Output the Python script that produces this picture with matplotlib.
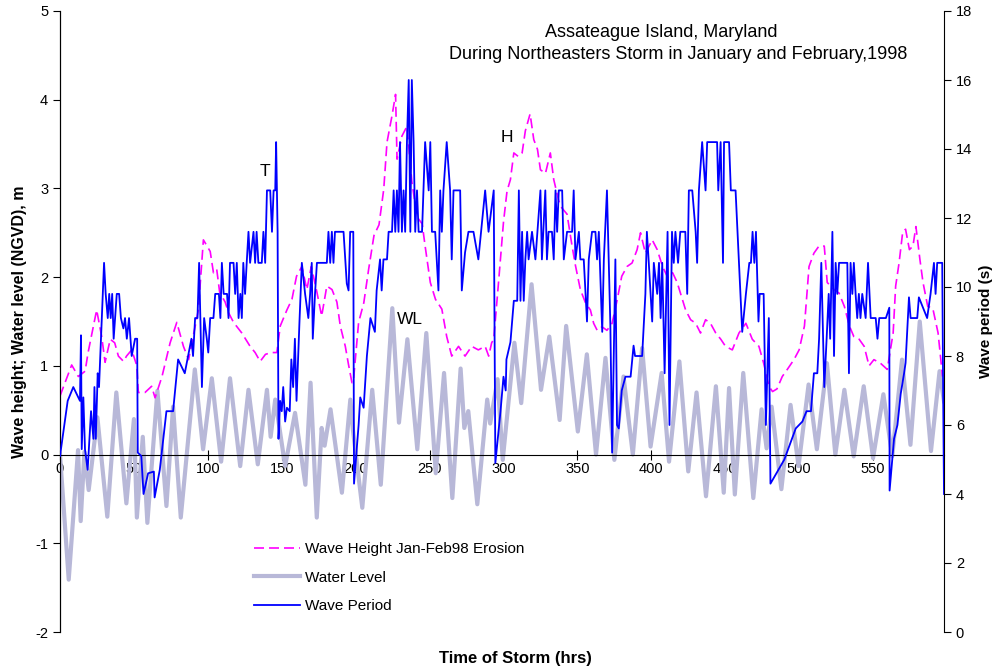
import matplotlib
matplotlib.use("Agg")
import matplotlib.pyplot as plt
from matplotlib.lines import Line2D

plt.rcParams['font.family'] = ['Liberation Sans', 'DejaVu Sans']
plt.rcParams['axes.unicode_minus'] = False

# wave height (m) vs storm time (hrs)
height_hr = [0, 7.9, 12.4, 17, 19, 24.8, 28.2, 30.5, 34, 37, 39.5, 43, 45, 48.5, 52, 53, 57.5, 62, 64.3, 69,
             74.5, 79, 83.5, 87, 90.5, 93.6, 97, 101.6, 103.8, 106, 108, 111.7, 114, 117.4, 123, 128.6, 132,
             135.4, 139, 143, 146.7, 149, 153.5, 156.9, 160, 163.6, 167, 170, 173.8, 177, 180.5, 184, 187.3,
             189.6, 193, 195, 197.5, 198.6, 202, 205.5, 208.8, 212.4, 215.8, 219, 221.2, 224.6, 227, 228,
             231.3, 234.7, 238, 241.5, 245, 247, 250.5, 254, 258.3, 261.6, 265, 269.6, 274, 278.5, 283, 287.6,
             290, 292, 293.4, 296.8, 300, 302.4, 304.7, 307, 310, 312.6, 314.8, 318, 320.5, 323, 325, 328.4,
             331.7, 334, 337.4, 339.5, 343, 346.4, 348.7, 352, 355.5, 358.8, 361, 363.4, 366.7, 370, 373.5,
             377, 380, 383.6, 387, 390.4, 392.7, 396, 400.6, 404, 407.6, 411, 414.4, 417.5, 421, 423.2, 426.6,
             430, 433.3, 436.7, 440, 443.6, 447, 450.2, 454.8, 459.3, 464, 468.3, 472.8, 476, 479.6, 482, 485,
             488.6, 492, 496.5, 500, 503.6, 506.7, 510, 513.4, 517, 519, 523.6, 527, 530.6, 534, 537, 540.6,
             544, 547.3, 550.6, 555, 559.6, 563.6, 565.3, 567.6, 570, 572, 574.6, 577, 579, 581.7, 583.8, 587,
             590.4, 594, 597]
height_m = [0.66, 1.01, 0.88, 0.94, 1.15, 1.63, 1.33, 1.04, 1.30, 1.26, 1.11, 1.05, 1.11, 1.18, 1.00, 0.70,
            0.70, 0.77, 0.64, 0.88, 1.26, 1.49, 1.22, 1.07, 1.37, 1.63, 2.42, 2.29, 2.05, 2.09, 1.83, 1.72,
            1.60, 1.49, 1.37, 1.22, 1.15, 1.05, 1.13, 1.15, 1.15, 1.45, 1.63, 1.75, 2.01, 2.12, 1.86, 2.12,
            1.83, 1.56, 1.90, 1.86, 1.72, 1.45, 1.22, 1.03, 0.81, 0.85, 1.49, 1.71, 2.09, 2.47, 2.59, 2.99,
            3.52, 3.82, 4.06, 3.33, 3.59, 3.70, 3.08, 2.68, 2.60, 2.35, 1.94, 1.75, 1.64, 1.33, 1.11, 1.22,
            1.11, 1.22, 1.18, 1.22, 1.11, 1.26, 1.30, 1.97, 2.62, 2.97, 3.10, 3.40, 3.36, 3.40, 3.65, 3.84,
            3.55, 3.44, 3.21, 3.17, 3.40, 3.10, 2.86, 2.78, 2.71, 2.35, 2.13, 1.86, 1.71, 1.63, 1.48, 1.40,
            1.44, 1.40, 1.48, 1.75, 2.01, 2.12, 2.16, 2.31, 2.50, 2.27, 2.42, 2.31, 2.12, 2.00, 2.05, 1.94,
            1.75, 1.63, 1.52, 1.48, 1.37, 1.52, 1.48, 1.37, 1.30, 1.22, 1.18, 1.37, 1.48, 1.30, 1.22, 1.03,
            0.77, 0.71, 0.74, 0.88, 0.96, 1.07, 1.18, 1.45, 2.12, 2.27, 2.35, 2.35, 1.94, 1.86, 1.82, 1.67,
            1.45, 1.33, 1.30, 1.22, 1.00, 1.07, 1.03, 0.96, 1.37, 1.90, 2.16, 2.50, 2.54, 2.31, 2.35, 2.57,
            2.20, 1.94, 1.67, 1.65, 1.37, 0.88]

# water level (m NGVD), tidal highs and lows
level_hr = [0, 5.9, 12.2, 14, 16.5, 19.4, 25.3, 32, 38.1, 44.9, 50, 52, 56, 59.1, 65.9, 72, 76.5, 81.7, 91.2,
            96.8, 102.7, 109, 115, 121.9, 127.5, 133.8, 140, 142.5, 145.6, 152.3, 159, 166, 169.5, 173.7, 177,
            179, 183, 190.7, 196.4, 198, 204.5, 211.2, 217, 224.8, 229.3, 235, 241.7, 247.8, 254.2, 259.8,
            265.4, 271, 273.5, 276.2, 282.3, 289, 291, 296, 299.5, 307.4, 312, 319, 325.4, 331, 338, 342.4,
            350.3, 356.4, 362.6, 369, 375, 381.2, 387.5, 393.8, 399.5, 407, 412, 419, 425, 430.6, 437, 443.7,
            449, 452.6, 456.5, 462.2, 469, 474.6, 478, 481.4, 488, 494.2, 499.6, 506.4, 512, 518.8, 524.5,
            530.6, 536.9, 543.7, 550, 557, 563, 569.6, 575.3, 581.6, 589.2, 595, 598]
level_m = [0.0, -1.41, 0.05, -0.75, 0.03, -0.40, 0.42, -0.70, 0.70, -0.55, 0.40, -0.71, 0.20, -0.77, 0.72,
           -0.58, 0.54, -0.71, 0.96, 0.06, 0.86, -0.08, 0.86, -0.13, 0.73, -0.11, 0.73, 0.20, 0.62, -0.13,
           0.47, -0.34, 0.81, -0.71, 0.30, 0.10, 0.51, -0.43, 0.62, 0.30, -0.60, 0.73, -0.34, 1.65, 0.36,
           1.30, 0.06, 1.37, -0.21, 0.92, -0.49, 0.97, 0.30, 0.49, -0.56, 0.62, 0.35, 0.85, -0.06, 1.26,
           0.58, 1.92, 0.73, 1.33, 0.39, 1.45, 0.26, 1.13, 0.00, 1.09, -0.06, 0.88, 0.00, 1.20, 0.09, 0.92,
           -0.08, 1.05, -0.19, 0.70, -0.47, 0.77, -0.43, 0.75, -0.45, 0.92, -0.49, 0.51, 0.07, 0.54, -0.39,
           0.56, -0.13, 0.79, 0.06, 1.03, 0.00, 0.73, -0.02, 0.77, -0.04, 0.68, -0.02, 1.07, 0.11, 1.50,
           0.04, 0.94, 0.60]

# peak wave period (s)
period_hr = [0, 5.2, 9, 13.5, 14.2, 14.7, 15.8, 16.9, 18.7, 21, 22.6, 23.3, 24.2, 25.5, 26.4, 27.8, 29.8,
             30.9, 32.3, 33.3, 34.3, 35.3, 36.3, 38.4, 40, 41.2, 42.9, 44, 45.2, 46.7, 48.5, 50.8, 52.2,
             52.6, 55, 56.5, 59.6, 63.5, 64, 67.5, 72, 76.5, 79.9, 84.4, 88.9, 90, 91.4, 93, 94.1, 96, 97.5,
             99.3, 100.3, 101.6, 103.8, 105, 107.5, 108.5, 109.5, 110.7, 113, 114, 115, 117.4, 118.5, 119.6,
             120.8, 122, 123, 124, 125.2, 126.3, 127.5, 128.6, 130.9, 132, 133, 134.2, 136.5, 137.6, 138.8,
             140, 142.2, 143.4, 144.5, 145.6, 146.2, 147.2, 147.8, 148.9, 150, 151, 152.3, 153.5, 155.4,
             156.5, 157.7, 158.9, 160, 162, 163.6, 165.8, 168, 169.2, 170.3, 171, 172.5, 173.8, 180.5, 181.6,
             182.8, 183.9, 185, 186, 191.8, 194, 195.2, 196.3, 198.4, 198.9, 202, 203.1, 205.4, 207.6, 210,
             213, 214.2, 216.5, 217.6, 218.8, 221.2, 222.3, 224.6, 225.7, 226.8, 227.9, 229, 230, 231.3,
             232.4, 233.5, 234.7, 235.9, 237, 238, 239.2, 240.3, 241.5, 242.6, 244.9, 247, 249.4, 250.5,
             251.6, 253.8, 256, 257.2, 258.3, 259.4, 261.6, 263.9, 265, 266.2, 270.7, 271.8, 274, 276.3,
             279.7, 283, 287.6, 289.9, 293.4, 294.5, 298, 300, 301.5, 302, 304.7, 307, 309.3, 310.4, 311.5,
             312.6, 313.7, 314.8, 316, 317, 319.3, 321.6, 325, 326, 328.3, 329.4, 330.5, 332.8, 334, 335.2,
             336.3, 337.4, 339.7, 340.8, 343, 346.4, 347.5, 348.7, 351, 352, 354.3, 356.5, 357.7, 359.9,
             362.2, 363.3, 364.5, 366.8, 367.9, 370, 372.3, 373.5, 375.7, 376.8, 378, 380, 382.5, 386, 388,
             389, 393.8, 396, 397, 398.3, 400.6, 401.7, 404, 405.2, 406.3, 407.4, 409, 411, 412.3, 414,
             415.2, 416.3, 418.1, 419.6, 423, 424.3, 425.4, 427.7, 430, 431, 432.2, 434.4, 436.7, 437.8,
             444.5, 445.3, 446.9, 448.5, 449.2, 452.6, 453.8, 457, 461.5, 464, 466.3, 467.4, 468.5, 469.7,
             470.8, 472.5, 473.3, 476, 477.5, 479.5, 480.6, 490, 497.7, 502.2, 505, 508, 510, 512.3, 513.5,
             515, 517, 518.6, 520, 521, 522.5, 523.6, 524.7, 525.8, 527, 532.6, 533.7, 534.8, 536, 537,
             538.2, 539.3, 540.4, 541.5, 542.7, 545, 546.6, 548.4, 551.8, 553, 554.2, 558.7, 561, 561.2,
             564.2, 566.5, 568.7, 571, 572, 574.3, 575.4, 579.9, 581, 586.6, 588.9, 591.2, 592.3, 593.4,
             596.8, 597.5, 598]
period_s = [5.1, 6.7, 7.1, 6.7, 8.6, 5.3, 6.8, 5.3, 4.7, 6.4, 5.6, 7.1, 5.6, 7.5, 7.1, 8.6, 10.7, 9.8, 9.1,
            9.8, 9.1, 9.8, 8.5, 9.8, 9.8, 9.1, 8.8, 9.1, 8.5, 9.1, 8.0, 8.5, 8.5, 5.2, 5.1, 4.0, 4.6, 4.65,
            3.9, 4.7, 6.4, 6.4, 7.9, 7.5, 8.5, 8.0, 9.1, 9.1, 10.7, 7.1, 9.1, 8.5, 8.1, 9.1, 9.1, 9.8, 9.8,
            9.1, 10.7, 9.8, 9.8, 9.1, 10.7, 10.7, 9.8, 10.7, 9.1, 9.8, 9.1, 10.7, 9.8, 10.7, 11.6, 10.7,
            11.6, 10.7, 11.6, 10.7, 10.7, 11.6, 10.7, 12.8, 12.8, 11.6, 12.8, 12.8, 14.2, 11.6, 5.6, 6.7,
            6.4, 7.1, 6.1, 6.5, 6.4, 7.9, 7.1, 8.5, 6.7, 9.0, 10.7, 9.8, 9.1, 9.8, 10.7, 8.5, 9.8, 10.7,
            10.7, 11.6, 10.7, 11.6, 10.7, 11.6, 11.6, 10.1, 9.9, 11.6, 11.6, 4.3, 6.0, 6.8, 6.5, 8.0, 9.1,
            8.7, 9.9, 10.8, 9.9, 10.8, 10.8, 11.6, 11.6, 12.8, 11.6, 12.8, 11.6, 14.2, 11.6, 12.8, 11.6,
            14.2, 16.0, 11.6, 16.0, 14.2, 11.6, 12.8, 11.6, 11.6, 14.2, 12.8, 14.2, 11.6, 11.6, 9.9, 12.8,
            11.6, 12.8, 14.2, 12.8, 10.8, 12.8, 12.8, 9.9, 11.0, 11.6, 11.6, 10.8, 12.8, 11.6, 12.8, 4.9,
            6.4, 7.4, 7.0, 7.9, 8.4, 9.6, 9.6, 12.8, 9.6, 11.6, 9.6, 10.8, 11.6, 10.8, 11.6, 10.8, 12.8,
            10.8, 12.8, 10.8, 11.6, 11.6, 10.8, 12.8, 11.6, 12.8, 12.8, 10.8, 11.6, 11.6, 12.8, 10.8, 11.6,
            10.8, 10.8, 9.0, 10.8, 11.6, 11.6, 10.8, 11.6, 8.7, 10.8, 12.8, 8.9, 5.2, 10.8, 6.0, 5.9, 7.0,
            7.4, 7.4, 8.3, 8.0, 8.0, 9.8, 11.6, 10.7, 9.0, 10.7, 9.8, 10.7, 9.1, 10.7, 7.5, 11.6, 6.0, 11.6,
            10.7, 11.6, 10.7, 11.6, 11.6, 9.8, 12.8, 12.8, 11.6, 10.7, 12.8, 14.2, 12.8, 14.2, 14.2, 12.8,
            14.2, 10.7, 14.2, 14.2, 12.8, 12.8, 8.7, 9.8, 10.7, 10.7, 11.6, 10.7, 11.6, 9.0, 9.8, 9.8, 6.0,
            9.1, 4.3, 5.0, 5.9, 6.1, 6.4, 6.4, 7.5, 7.5, 8.5, 10.7, 7.1, 8.5, 9.8, 8.5, 11.6, 8.0, 10.7, 9.8,
            10.7, 10.7, 7.5, 10.7, 9.8, 10.7, 9.8, 9.1, 9.8, 9.1, 9.8, 9.1, 10.7, 9.1, 9.1, 8.5, 9.1, 9.1,
            9.4, 4.1, 5.6, 6.0, 6.9, 7.5, 7.8, 9.7, 9.1, 9.1, 9.7, 9.1, 9.8, 10.7, 9.8, 10.7, 10.7, 6.5,
            4.0]

fig = plt.figure(figsize=(9.94, 6.67), dpi=100)
ax = fig.add_axes([60 / 994, 35 / 667, 884 / 994, 621 / 667])
ax2 = ax.twinx()

wl_color = '#b8b8d8'
ax.plot(level_hr, level_m, color=wl_color, lw=3.0, zorder=2)
ax.plot(height_hr, height_m, color='#ff00ff', lw=1.2, dashes=(6, 3), zorder=3)
ax2.plot(period_hr, period_s, color='#0000ff', lw=1.3, zorder=3)

ax.set_xlim(0, 598)
ax.set_ylim(-2, 5)
ax2.set_ylim(0, 18)
ax.set_xticks(range(0, 551, 50))
ax.set_yticks(range(-2, 6))
ax2.set_yticks(range(0, 19, 2))

for a in (ax, ax2):
    a.spines['top'].set_visible(False)
ax.spines['bottom'].set_position(('data', 0))
ax2.spines['bottom'].set_visible(False)
ax.spines['right'].set_visible(False)

ax.tick_params(axis='x', direction='inout', length=7, labelsize=10.5, pad=2)
ax.tick_params(axis='y', direction='out', length=5, labelsize=10.5)
ax2.tick_params(axis='y', direction='out', length=5, labelsize=10.5)

ax.set_ylabel('Wave height; Water level (NGVD), m', fontsize=11.5, fontweight='bold', labelpad=6)
ax2.set_ylabel('Wave period (s)', fontsize=11, fontweight='bold', labelpad=5)
fig.text(515 / 994, 1 - 658 / 667, 'Time of Storm (hrs)', ha='center', va='center',
         fontsize=12, fontweight='bold')

ax.text(0.68, 0.965, 'Assateague Island, Maryland', transform=ax.transAxes,
        ha='center', va='center', fontsize=13)
ax.text(0.699, 0.93, 'During Northeasters Storm in January and February,1998', transform=ax.transAxes,
        ha='center', va='center', fontsize=13)
ax.text(0.232, 0.742, 'T', transform=ax.transAxes, ha='center', va='center', fontsize=12.5)
ax.text(0.506, 0.797, 'H', transform=ax.transAxes, ha='center', va='center', fontsize=12.5)
ax.text(0.396, 0.503, 'WL', transform=ax.transAxes, ha='center', va='center', fontsize=12.5)

handles = [Line2D([], [], color='#ff00ff', lw=1.2, dashes=(6, 3)),
           Line2D([], [], color=wl_color, lw=3.0),
           Line2D([], [], color='#0000ff', lw=1.3)]
labels = ['Wave Height Jan-Feb98 Erosion', 'Water Level', 'Wave Period']
ax2.legend(handles, labels, loc='upper left', bbox_to_anchor=(0.204, 0.167), frameon=False,
           fontsize=11, handlelength=3.0, handletextpad=0.35, labelspacing=0.95)

fig.savefig('out.png', dpi=100)
